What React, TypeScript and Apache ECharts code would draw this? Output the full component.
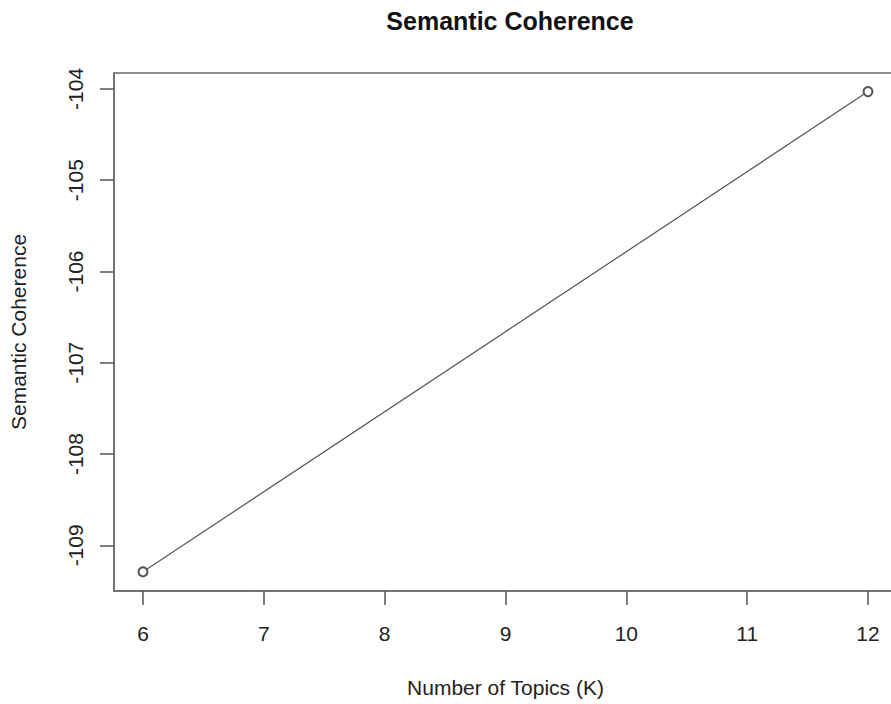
import React, { useEffect, useRef } from "react";
import * as echarts from "echarts";

const topics = [6, 12];
const coherence = [-109.29, -104.03];
const xTicks = [6, 7, 8, 9, 10, 11, 12];
const yTicks = [-109, -108, -107, -106, -105, -104];

export default function App() {
  const ref = useRef<HTMLDivElement>(null);
  useEffect(() => {
    if (!ref.current) return;
    const chart = echarts.init(ref.current, null, { renderer: "svg" });
    const font = "'Liberation Sans', Arial, sans-serif";
    chart.setOption({
      animation: false,
      backgroundColor: "#ffffff",
      title: {
        text: "Semantic Coherence",
        left: 505,
        top: 3,
        textAlign: "center",
        textStyle: { fontFamily: font, fontSize: 25, fontWeight: "bold", color: "#111" },
      },
      grid: {
        left: 114,
        right: 3,
        top: 73,
        bottom: 704 - 591,
        show: true,
        borderColor: "#6a6a6a",
        borderWidth: 1.5,
        containLabel: false,
        outerBoundsMode: "none",
      },
      xAxis: {
        type: "value",
        min: 5.76,
        max: 12.24,
        name: "Number of Topics (K)",
        nameLocation: "middle",
        nameGap: 86,
        nameTextStyle: { fontFamily: font, fontSize: 21, color: "#222" },
        axisLine: { show: true, lineStyle: { color: "#6a6a6a", width: 1.5 } },
        splitLine: { show: false },
        axisTick: {
          show: true,
          inside: false,
          length: 14,
          customValues: xTicks,
          lineStyle: { color: "#555", width: 1.5 },
        },
        axisLabel: { customValues: xTicks, margin: 32, fontFamily: font, fontSize: 21, color: "#222" },
      },
      yAxis: {
        type: "value",
        min: -109.5,
        max: -103.826,
        name: "Semantic Coherence",
        nameLocation: "middle",
        nameGap: 85,
        nameRotate: 90,
        nameTextStyle: { fontFamily: font, fontSize: 21, color: "#222" },
        axisLine: { show: true, lineStyle: { color: "#6a6a6a", width: 1.5 } },
        splitLine: { show: false },
        axisTick: {
          show: true,
          inside: false,
          length: 14,
          customValues: yTicks,
          lineStyle: { color: "#555", width: 1.5 },
        },
        axisLabel: { customValues: yTicks, rotate: 90, margin: 28, fontFamily: font, fontSize: 21, color: "#222" },
      },
      series: [
        {
          type: "line",
          data: topics.map((x, i) => [x, coherence[i]]),
          symbol: "emptyCircle",
          symbolSize: 9,
          lineStyle: { color: "#555", width: 1.2 },
          itemStyle: { color: "#555", borderColor: "#555", borderWidth: 1.2 },
        },
      ],
    });
    return () => chart.dispose();
  }, []);
  return (
    <div
      style={{ position: "fixed", left: 0, top: 0, width: 891, height: 704, overflow: "hidden", background: "#fff" }}
    >
      <div ref={ref} style={{ position: "absolute", left: 0, top: 0, width: 900, height: 704 }} />
    </div>
  );
}
